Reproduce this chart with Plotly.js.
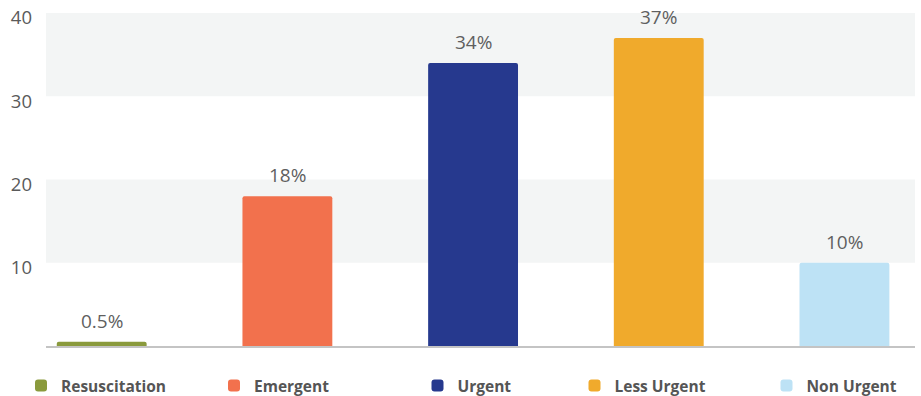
<!DOCTYPE html>
<html>
<head>
<meta charset="utf-8">
<script src="https://cdn.plot.ly/plotly-3.0.1.min.js"></script>
<style>html,body{margin:0;padding:0;background:#fff;}#chart{width:921px;height:396px;}</style>
</head>
<body>
<div id="chart"></div>
<script>
// Data
var categories = ["Resuscitation", "Emergent", "Urgent", "Less Urgent", "Non Urgent"];
var values = [0.5, 18, 34, 37, 10];
var valueLabels = ["0.5%", "18%", "34%", "37%", "10%"];
var colors = ["#8a9a3c", "#f2714d", "#26398e", "#f0aa2c", "#bde2f5"];
var yTicks = [10, 20, 30, 40];
var bands = [[10, 20], [30, 40]];
// legend symbol centre positions in pixels (layout only)
var legendPx = [41, 234, 437.5, 594.5, 786.5];

var M = {l: 46, r: 6, t: 13, b: 50, autoexpand: false};
var W = 921, H = 396;
var plotW = W - M.l - M.r;
var plotH = H - M.t - M.b;

var traces = categories.map(function (c, i) {
  return {
    type: "bar",
    name: c,
    x: [c],
    y: [values[i]],
    marker: {color: colors[i], line: {width: 0}},
    width: 0.484,
    hoverinfo: "none",
    legend: i === 0 ? "legend" : "legend" + (i + 1)
  };
});

var annotations = categories.map(function (c, i) {
  return {
    x: c, y: values[i], xref: "x", yref: "y",
    text: valueLabels[i], showarrow: false,
    yanchor: "bottom", yshift: 6,
    font: {family: "Open Sans", size: 19, color: "#5f5f5f"}
  };
});

var shapes = bands.map(function (b) {
  return {
    type: "rect", xref: "paper", yref: "y", x0: 0, x1: 1, y0: b[0], y1: b[1],
    fillcolor: "#f3f5f5", line: {width: 0}, layer: "below"
  };
});

var layout = {
  width: W, height: H,
  margin: M,
  paper_bgcolor: "#fff", plot_bgcolor: "#fff",
  font: {family: "Open Sans", color: "#5a5a5a"},
  barcornerradius: 2,
  showlegend: true,
  xaxis: {
    type: "category",
    categoryorder: "array", categoryarray: categories,
    range: [-0.3, 4.38],
    showticklabels: false, ticks: "",
    showgrid: false, zeroline: false,
    showline: true, linecolor: "#c4c4c4", linewidth: 1.5,
    fixedrange: true
  },
  yaxis: {
    range: [0, 40.001],
    tickvals: yTicks,
    ticktext: yTicks.map(String),
    showgrid: false, zeroline: false, showline: false, ticks: "",
    ticklabelstandoff: 13,
    ticklabelshift: 5,
    tickfont: {family: "Open Sans", size: 18.5, color: "#5a5a5a"},
    fixedrange: true
  },
  shapes: shapes,
  annotations: annotations
};

legendPx.forEach(function (px, i) {
  var key = i === 0 ? "legend" : "legend" + (i + 1);
  layout[key] = {
    x: (px - 20 - M.l) / plotW,
    xanchor: "left",
    y: -(386 - (H - M.b)) / plotH,
    yanchor: "middle",
    orientation: "h",
    bgcolor: "rgba(0,0,0,0)",
    font: {family: "Open Sans", size: 15.5, color: "#555555", weight: "bold"},
    itemclick: false, itemdoubleclick: false
  };
});

Plotly.newPlot("chart", traces, layout, {displayModeBar: false, staticPlot: true});
</script>
</body>
</html>
